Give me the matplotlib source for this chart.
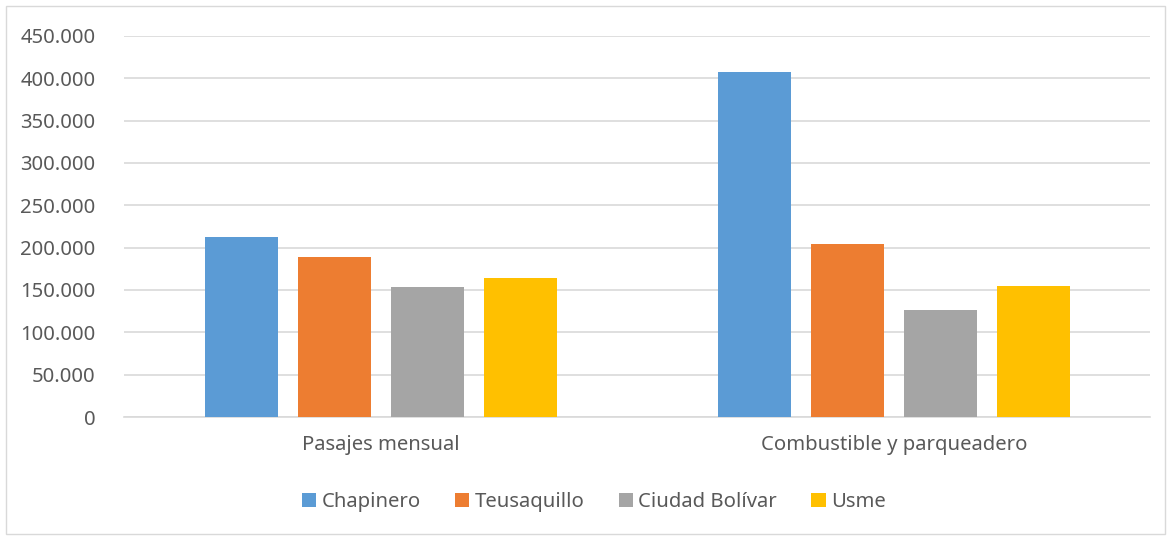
import matplotlib.pyplot as plt
import numpy as np
from matplotlib.patches import Rectangle
from matplotlib.ticker import FuncFormatter, MultipleLocator

categorias = ["Pasajes mensual", "Combustible y parqueadero"]
localidades = ["Chapinero", "Teusaquillo", "Ciudad Bolívar", "Usme"]
chapinero = [212000, 407500]
teusaquillo = [189300, 204300]
ciudad_bolivar = [153900, 126400]
usme = [164200, 155100]
colores = ["#5b9bd5", "#ed7d31", "#a5a5a5", "#ffc000"]

series = [chapinero, teusaquillo, ciudad_bolivar, usme]

plt.rcParams["font.family"] = ["Noto Sans", "DejaVu Sans"]
texto = "#595959"

fig = plt.figure(figsize=(11.69, 5.36), dpi=100)
ax = fig.add_axes([0.1065, 0.222, 0.8775, 0.711])

x = np.arange(len(categorias))
ancho = 0.1423
paso = 0.1813
for i, (nombre, vals) in enumerate(zip(localidades, series)):
    ax.bar(x + (i - 1.5) * paso, vals, width=ancho, color=colores[i], label=nombre, zorder=3)

ax.set_xlim(-0.5, 1.5)
ax.set_ylim(0, 450000)
ax.yaxis.set_major_locator(MultipleLocator(50000))
ax.yaxis.set_major_formatter(FuncFormatter(lambda v, p: f"{int(v):,}".replace(",", ".")))
ax.grid(axis="y", color="#d9d9d9", linewidth=1.2, zorder=0)
for s in ["top", "right", "left"]:
    ax.spines[s].set_visible(False)
ax.spines["bottom"].set_color("#d9d9d9")
ax.spines["bottom"].set_linewidth(1.2)
ax.set_xticks(x)
ax.set_xticklabels(categorias)
ax.tick_params(axis="both", length=0, labelsize=14.6, colors=texto)
ax.tick_params(axis="y", pad=21)
ax.tick_params(axis="x", pad=13)

leg = fig.legend(loc="center", bbox_to_anchor=(0.508, 0.063), ncol=4, frameon=False,
                 fontsize=14.6, handlelength=0.7, handleheight=0.7,
                 handletextpad=0.25, columnspacing=1.7)
for t in leg.get_texts():
    t.set_color(texto)

fig.patches.append(Rectangle((0.005, 0.004), 0.992, 0.985, transform=fig.transFigure,
                             fill=False, edgecolor="#d9d9d9", linewidth=1))

fig.savefig("out.png", dpi=100)
